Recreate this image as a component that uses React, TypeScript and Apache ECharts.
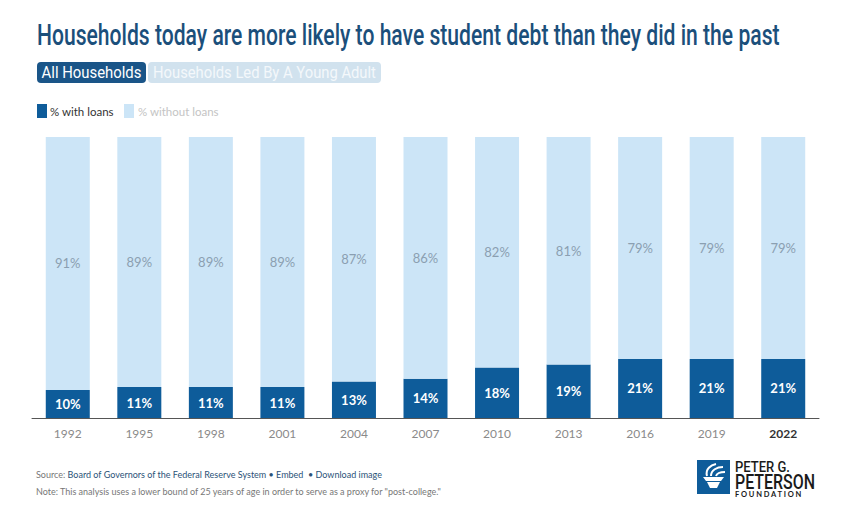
import React, { useEffect, useRef } from "react";
import * as echarts from "echarts";

const years = ["1992", "1995", "1998", "2001", "2004", "2007", "2010", "2013", "2016", "2019", "2022"];
const withLoans = [10, 11, 11, 11, 13, 14, 18, 19, 21, 21, 21];
const withoutLoans = [91, 89, 89, 89, 87, 86, 82, 81, 79, 79, 79];

const DARK = "#0e5c9a";
const LIGHT = "#cce5f7";
const TITLE = "#1b4f7b";

function measure(text: string, font: string): number {
  const c = document.createElement("canvas").getContext("2d")!;
  c.font = font;
  return c.measureText(text).width;
}

export default function App() {
  const ref = useRef<HTMLDivElement>(null);
  useEffect(() => {
    const chart = echarts.init(ref.current!, null, { renderer: "svg" });
    const nar = "Roboto";
    const fit = (text: string, font: string, w: number) => w / measure(text, font);

    const titleText = "Households today are more likely to have student debt than they did in the past";
    const titleFont = "500 29px " + nar;
    const tab1 = "All Households";
    const tab2 = "Households Led By A Young Adult";
    const tabFont = "16px " + nar;
    const p1 = "PETER G.";
    const p1Font = "500 14px " + nar;
    const p2 = "PETERSON";
    const p2Font = "500 20px " + nar;

    chart.setOption({
      animation: false,
      backgroundColor: "#ffffff",
      grid: { left: 32, right: 29, top: 137, bottom: 101, containLabel: false },
      xAxis: {
        type: "category",
        data: years,
        axisLine: { lineStyle: { color: "#555555", width: 1 } },
        axisTick: { show: false },
        axisLabel: {
          margin: 9,
          fontFamily: "Lato",
          fontSize: 12,
          color: "#8a8a8a",
          formatter: (v: string) => (v === "2022" ? "{b|" + v + "}" : v),
          rich: { b: { fontFamily: "Lato", fontSize: 12, fontWeight: "bold", color: "#333333" } },
        },
      },
      yAxis: { type: "value", min: 0, max: 100, show: false, splitLine: { show: false } },
      series: [
        {
          name: "% with loans",
          type: "bar",
          stack: "t",
          data: withLoans,
          barWidth: 44,
          itemStyle: { color: DARK },
          label: {
            show: true,
            position: "inside",
            formatter: "{c}%",
            fontFamily: "Lato",
            fontWeight: "bold",
            fontSize: 13,
            color: "#ffffff",
          },
        },
        {
          name: "% without loans",
          type: "bar",
          stack: "t",
          data: withoutLoans,
          barWidth: 44,
          itemStyle: { color: LIGHT },
          label: {
            show: true,
            position: "inside",
            formatter: "{c}%",
            fontFamily: "Lato",
            fontSize: 13,
            color: "#8b9fb1",
          },
        },
      ],
      graphic: [
        {
          type: "text",
          x: 37,
          y: 35,
          scaleX: fit(titleText, titleFont, 743),
          style: { text: titleText, font: titleFont, fill: TITLE, verticalAlign: "middle" },
        },
        { type: "rect", shape: { x: 37, y: 62, width: 109, height: 21, r: 4 }, style: { fill: "#1a5588" } },
        {
          type: "text",
          x: 91.5,
          y: 72.5,
          scaleX: fit(tab1, tabFont, 100),
          style: { text: tab1, font: tabFont, fill: "#ffffff", align: "center", verticalAlign: "middle" },
        },
        { type: "rect", shape: { x: 148, y: 62, width: 233, height: 21, r: 4 }, style: { fill: "#d1e2ee" } },
        {
          type: "text",
          x: 264.5,
          y: 72.5,
          scaleX: fit(tab2, tabFont, 223),
          style: { text: tab2, font: tabFont, fill: "#f4f8fb", align: "center", verticalAlign: "middle" },
        },
        { type: "rect", shape: { x: 37, y: 104, width: 10, height: 14 }, style: { fill: DARK } },
        {
          type: "text",
          x: 50,
          y: 111,
          style: { text: "% with loans", font: "11.5px Lato", fill: "#333333", verticalAlign: "middle" },
        },
        { type: "rect", shape: { x: 124, y: 104, width: 10, height: 14 }, style: { fill: LIGHT } },
        {
          type: "text",
          x: 138,
          y: 111,
          style: { text: "% without loans", font: "11.5px Lato", fill: "#c4c4c4", verticalAlign: "middle" },
        },
        {
          type: "text",
          x: 36,
          y: 474,
          style: {
            text: "{g|Source: }{b|Board of Governors of the Federal Reserve System • Embed  • Download image}",
            verticalAlign: "middle",
            rich: {
              g: { font: "9px Lato", fill: "#777777" },
              b: { font: "9px Lato", fill: "#2b5278" },
            },
          },
        },
        {
          type: "text",
          x: 36,
          y: 491,
          style: {
            text: 'Note: This analysis uses a lower bound of 25 years of age in order to serve as a proxy for "post-college."',
            font: "9px Lato",
            fill: "#777777",
            verticalAlign: "middle",
          },
        },
        // logo
        { type: "rect", shape: { x: 697, y: 460, width: 33, height: 34 }, style: { fill: "#0e5c9a" } },
        {
          type: "polygon",
          shape: { points: [[703, 477], [724, 477], [721, 481], [706, 481]] },
          style: { fill: "#ffffff" },
        },
        {
          type: "polygon",
          shape: { points: [[707, 482], [720, 482], [717, 488], [710, 488]] },
          style: { fill: "#ffffff" },
        },
        {
          type: "bezierCurve",
          shape: { x1: 707, y1: 476, x2: 716, y2: 464, cpx1: 705, cpy1: 469, cpx2: 711, cpy2: 465 },
          style: { stroke: "#ffffff", lineWidth: 2, fill: "none" },
        },
        {
          type: "bezierCurve",
          shape: { x1: 711, y1: 476, x2: 723, y2: 467, cpx1: 711, cpy1: 470, cpx2: 717, cpy2: 467 },
          style: { stroke: "#ffffff", lineWidth: 2, fill: "none" },
        },
        {
          type: "bezierCurve",
          shape: { x1: 716, y1: 476, x2: 725, y2: 472, cpx1: 717, cpy1: 473, cpx2: 721, cpy2: 472 },
          style: { stroke: "#ffffff", lineWidth: 2, fill: "none" },
        },
        {
          type: "text",
          x: 735,
          y: 467,
          scaleX: fit(p1, p1Font, 55),
          style: { text: p1, font: p1Font, fill: "#1a1a1a", verticalAlign: "middle" },
        },
        {
          type: "text",
          x: 735,
          y: 482,
          scaleX: fit(p2, p2Font, 80),
          style: { text: p2, font: p2Font, fill: "#1a1a1a", verticalAlign: "middle" },
        },
        {
          type: "text",
          x: 735,
          y: 494.5,
          style: { text: "F O U N D A T I O N", font: "bold 7.5px Lato", fill: "#1a1a1a", verticalAlign: "middle" },
        },
      ],
    });
    return () => chart.dispose();
  }, []);
  return <div ref={ref} style={{ position: "fixed", left: 0, top: 0, width: 848, height: 519 }} />;
}
